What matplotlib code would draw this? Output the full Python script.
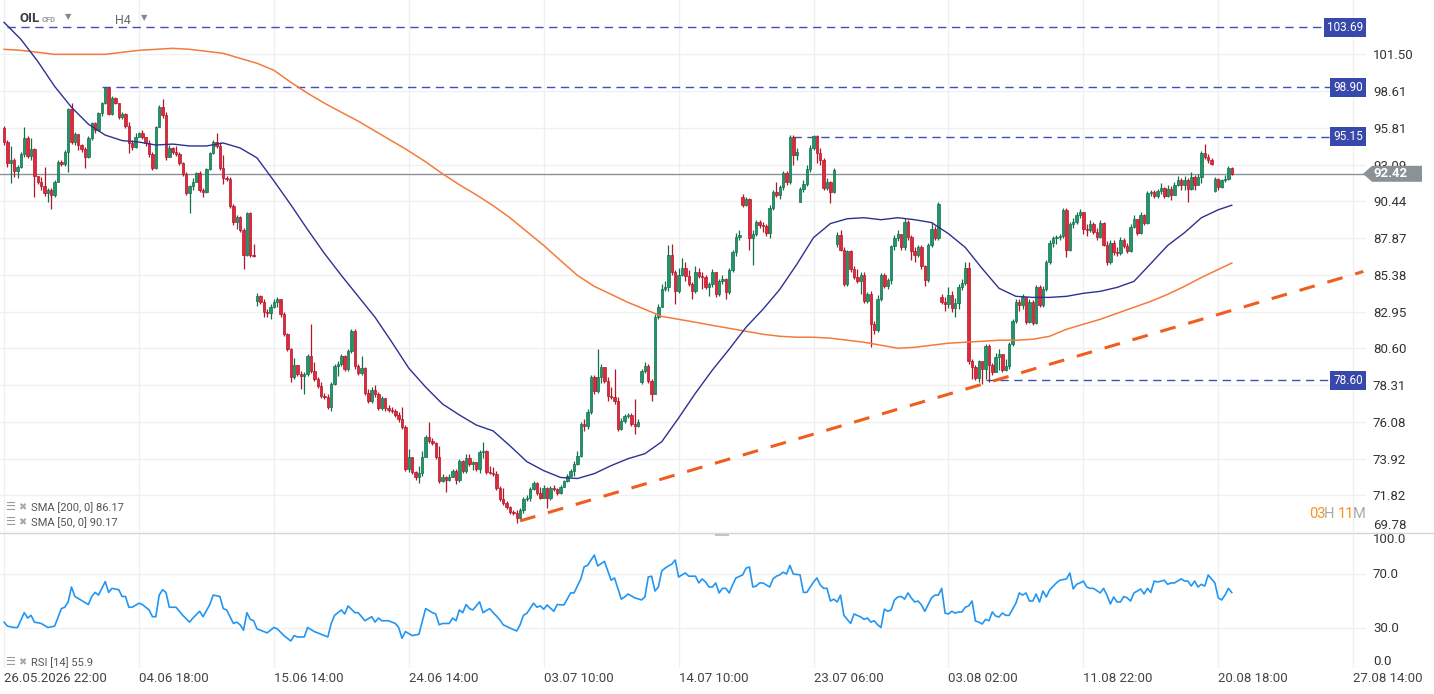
import numpy as np
import matplotlib
matplotlib.use("Agg")
import matplotlib.pyplot as plt
from matplotlib.patches import Polygon
from matplotlib.lines import Line2D
from matplotlib.ticker import NullLocator
from matplotlib.transforms import blended_transform_factory

plt.rcParams['font.family'] = ['Roboto', 'DejaVu Sans']

# ---- OIL CFD, H4 candles ----
first_open = 95.79
closes = [
    94.75, 93.22, 93.43, 92.63, 92.93, 93.87, 95.05, 93.72, 94.23, 92.27,
    91.84, 91.56, 91.05, 91.27, 90.91, 91.84, 93.29, 93.14, 94.01,
    97.22, 94.75, 95.35, 94.53, 94.23, 93.65, 95.05, 96.17, 95.64, 96.92,
    97.68, 98.83, 96.85, 98.06, 97.68, 96.62, 96.85, 95.94, 94.68, 94.38,
    95.12, 95.42, 95.12, 94.68, 93.87, 92.85,
    95.87, 97.37, 96.77,
    93.65, 94.31, 94.01, 93.87, 93.22, 92.42, 91.05, 91.56, 91.84, 92.49,
    91.27, 91.13, 92.78, 93.94, 94.75, 94.46, 92.85, 92.12, 92.05, 90.14,
    89.01, 89.36, 88.46, 86.75, 89.64, 86.75, 86.68,
    83.95, 83.55, 82.90, 82.84, 83.23, 83.55, 83.75, 82.77, 81.49, 80.54,
    78.79, 79.54, 78.98, 78.85, 78.98, 80.10, 79.17, 78.67, 78.24, 77.63,
    77.60, 76.97, 78.36, 79.48, 79.60, 80.10, 79.29, 80.41, 81.68, 79.48,
    79.04, 79.35, 77.81, 77.33, 78.00, 77.75, 76.91, 77.51, 76.91, 76.79,
    76.75, 76.49, 76.25, 75.78, 73.34, 74.03, 73.17, 72.88,
    73.11, 74.03, 75.19, 74.95, 74.84, 74.03, 72.60, 72.88, 72.66, 72.88,
    73.22, 72.66, 73.80, 73.22, 73.97, 73.62, 73.70, 73.34, 74.32, 74.38,
    73.17, 73.11, 73.05, 72.21, 71.59, 71.37, 71.15, 70.88, 70.82, 70.55,
    70.99, 71.59, 71.65, 72.15, 72.49,
    71.93, 71.65, 72.21,
    71.65, 72.21, 72.15, 71.93, 72.27, 72.60, 72.94, 73.22, 73.62, 74.08,
    75.95, 75.83, 76.67, 78.79, 77.94, 78.79, 79.42, 78.55, 77.63, 77.57,
    77.33, 75.66, 76.13, 76.43, 76.49, 75.95,
    75.83, 76.07, 79.17, 79.48, 78.55, 77.75, 82.58, 83.23, 84.41, 84.54,
    86.75, 85.54, 84.28, 85.40, 85.87, 85.27,
    84.74, 84.28, 85.60, 85.27, 85.20, 84.54, 84.74, 85.54, 84.08, 84.94,
    85.07, 84.21, 85.67, 86.89, 87.97, 88.11, 90.21, 90.63, 87.91, 88.18,
    89.01, 88.81, 88.74, 88.25, 89.99,
    91.13, 90.91, 91.48, 92.49, 91.84, 95.15, 93.80, 94.01,
    91.34, 91.70, 92.78, 94.31, 95.20, 93.94, 93.43,
    91.41, 91.84, 91.13, 92.71, 88.11, 87.09, 84.74, 86.96, 85.74, 85.20,
    84.94, 85.40, 83.62, 84.08, 82.13, 81.74, 83.75, 85.34, 84.61, 85.00,
    87.30, 87.91, 88.18, 87.23, 89.01, 87.97, 86.96, 86.75, 87.23, 85.94,
    85.00, 87.37, 88.53, 87.91, 90.28, 83.55, 83.42, 84.01, 83.16,
    83.49, 84.54, 84.81, 85.87, 79.79, 79.42, 78.73, 79.79, 79.29, 80.72,
    79.54, 79.10,
    80.03, 80.22, 79.23, 79.48, 80.85,
    82.32, 83.55, 83.36, 83.88, 82.26,
    83.55, 82.19, 84.54, 83.36, 84.41, 86.27, 87.57, 87.91, 87.97, 88.04,
    89.85, 87.09, 88.88, 89.01, 89.50, 89.71, 88.53, 88.46, 88.88, 88.32,
    87.97, 88.95, 87.43, 86.21, 87.57,
    86.89, 86.82, 87.77, 87.30, 86.96, 88.67,
    89.22, 88.25, 89.50, 88.95, 91.05, 91.13, 90.84, 91.20, 91.41, 90.84,
    91.34, 90.91, 91.63, 91.98, 91.63, 91.98, 91.34, 92.20, 91.63, 92.20,
    93.94, 93.65, 93.43, 93.14, 92.05, 91.48, 91.98, 92.05, 92.85, 92.42,
]
highs = [
    95.94, 94.90, 94.46, 93.58, 93.07, 94.01, 95.87, 95.20, 95.05, 94.31,
    92.27, 92.20, 92.93, 91.41, 91.41, 91.98, 93.43, 93.43, 94.16,
    97.29, 97.68, 95.49, 95.05, 94.60, 94.38, 95.20, 96.24, 96.24, 96.99,
    97.75, 98.90, 98.90, 98.22, 98.14, 97.14, 96.99, 96.92, 96.24, 94.90,
    95.42, 95.49, 95.64, 94.97, 94.90, 94.01,
    95.94, 97.52, 97.98,
    96.99, 94.53, 94.38, 94.46, 94.01, 93.29, 92.56, 91.63, 92.12, 92.56,
    92.63, 91.41, 92.85, 94.01, 94.90, 95.42, 94.75, 93.80, 92.27, 92.20,
    90.28, 89.50, 89.43, 88.60, 89.71, 89.71, 87.50,
    84.15, 84.01, 83.75, 83.10, 83.42, 83.75, 83.88, 83.75, 82.90, 81.55,
    80.60, 79.97, 79.54, 79.17, 79.10, 80.22, 82.13, 79.72, 78.79, 78.48,
    77.81, 77.75, 78.48, 79.60, 79.79, 80.22, 80.16, 80.54, 81.81, 81.81,
    79.60, 80.10, 79.42, 78.06, 78.18, 78.30, 77.87, 77.63, 77.51, 77.09,
    76.97, 76.85, 76.67, 76.97, 75.89, 74.49, 73.97, 73.22,
    73.51, 74.38, 75.30, 76.07, 75.13, 74.90, 74.67, 73.00, 72.94, 73.00,
    73.34, 73.34, 73.91, 73.85, 74.20, 74.20, 73.80, 73.74, 74.43, 74.90,
    74.43, 73.51, 73.45, 73.22, 72.32, 72.21, 71.48, 71.21, 70.99, 70.99,
    71.10, 71.70, 71.82, 72.27, 72.60,
    72.55, 72.27, 72.38,
    72.27, 72.32, 72.38, 72.21, 72.38, 72.71, 73.05, 73.34, 73.80, 74.38,
    76.07, 76.25, 76.85, 78.92, 78.92, 80.54, 79.60, 79.42, 78.79, 78.18,
    79.29, 77.57, 76.31, 76.55, 76.61, 76.61,
    77.45, 76.25, 79.29, 79.72, 79.60, 78.67, 82.77, 83.42, 84.74, 84.94,
    87.43, 87.50, 85.67, 85.87, 86.48, 86.27,
    85.67, 84.87, 86.00, 85.87, 85.60, 85.34, 84.87, 85.74, 85.60, 85.07,
    85.40, 85.14, 85.87, 87.09, 88.25, 88.46, 90.98, 90.77, 90.70, 88.46,
    89.15, 89.15, 89.01, 88.88, 90.21,
    91.27, 91.84, 91.63, 92.63, 92.63, 95.25, 95.25, 94.31,
    91.48, 91.98, 93.07, 94.53, 95.25, 95.25, 94.31,
    93.58, 92.12, 91.91, 92.85, 88.32, 88.46, 87.23, 87.09, 87.09, 86.00,
    85.74, 85.54, 85.60, 84.21, 84.28, 82.32, 84.01, 85.47, 85.47, 85.14,
    87.43, 88.11, 88.46, 88.04, 89.29, 89.15, 88.11, 87.23, 87.43, 87.43,
    86.07, 87.57, 89.01, 88.74, 90.42, 84.08, 83.88, 84.54, 84.28,
    83.82, 84.74, 85.07, 86.21, 86.21, 79.91, 79.54, 79.85, 79.79, 80.85,
    80.85, 79.66,
    80.28, 80.54, 80.22, 79.91, 80.98,
    82.45, 83.75, 83.75, 84.08, 83.88,
    83.75, 83.68, 84.68, 84.68, 84.61, 86.41, 87.77, 88.04, 88.11, 88.18,
    89.99, 89.99, 89.01, 89.29, 89.71, 89.92, 89.71, 88.88, 89.15, 89.01,
    88.60, 89.15, 89.01, 87.64, 87.77,
    87.71, 87.23, 87.97, 87.91, 87.57, 88.88,
    89.50, 89.22, 89.71, 89.57, 91.20, 91.27, 91.27, 91.34, 91.77, 91.48,
    91.63, 91.56, 91.84, 92.27, 92.12, 92.27, 92.12, 92.56, 92.34, 92.42,
    94.09, 94.60, 93.87, 93.58, 92.20, 92.12, 92.05, 92.34, 93.00, 92.93,
]
lows = [
    94.53, 92.93, 91.77, 92.20, 92.12, 92.85, 93.65, 93.58, 93.43, 90.77,
    91.70, 91.27, 90.84, 90.42, 89.92, 90.77, 92.49, 93.00, 93.00,
    92.56, 94.60, 94.53, 94.16, 94.01, 92.85, 93.58, 94.90, 95.42, 95.57,
    96.70, 97.60, 96.77, 96.77, 97.60, 96.47, 96.47, 95.79, 93.94, 94.16,
    94.31, 95.12, 94.97, 94.46, 93.65, 92.71,
    92.78, 95.87, 96.54,
    93.43, 93.94, 93.87, 93.72, 93.07, 92.27, 90.91, 89.64, 91.27, 91.98,
    91.13, 90.77, 91.05, 92.71, 93.87, 94.31, 92.71, 91.70, 91.91, 89.99,
    88.81, 88.53, 88.32, 85.80, 86.68, 86.55, 86.55,
    83.29, 83.42, 82.58, 82.58, 82.45, 83.16, 83.23, 82.58, 81.36, 80.41,
    78.48, 78.67, 78.85, 78.06, 77.75, 78.85, 79.04, 78.55, 78.12, 77.51,
    77.45, 76.85, 76.73, 78.30, 78.85, 79.48, 79.17, 79.17, 80.28, 79.29,
    78.92, 78.92, 77.69, 77.21, 77.21, 77.57, 76.79, 76.79, 76.73, 76.67,
    76.61, 76.37, 76.07, 75.66, 73.22, 73.17, 73.00, 72.71,
    72.49, 72.94, 74.03, 74.84, 74.72, 73.91, 72.49, 72.55, 71.99, 72.60,
    72.88, 72.43, 72.55, 73.11, 73.11, 73.51, 73.28, 73.22, 73.11, 73.97,
    73.05, 73.00, 72.94, 72.10, 71.48, 71.26, 71.04, 70.77, 70.71, 70.28,
    70.50, 70.82, 71.48, 71.48, 72.10,
    71.82, 71.60, 71.65,
    71.10, 71.54, 72.04, 71.82, 71.87, 72.27, 72.55, 72.83, 72.94, 73.57,
    74.03, 75.54, 75.66, 76.55, 77.75, 77.81, 78.42, 78.42, 77.33, 77.45,
    77.15, 75.54, 75.60, 76.01, 76.31, 75.83,
    75.36, 75.78, 78.36, 79.04, 78.42, 77.33, 77.94, 82.45, 83.75, 84.28,
    84.28, 85.40, 83.42, 84.15, 85.27, 84.94,
    84.61, 83.75, 84.15, 85.14, 84.41, 84.41, 83.95, 84.54, 83.88, 83.95,
    84.74, 83.75, 84.08, 85.54, 86.68, 87.77, 90.07, 90.14, 87.09, 86.07,
    88.04, 88.60, 88.32, 88.04, 87.91,
    89.85, 90.77, 90.63, 91.27, 91.63, 91.70, 93.07, 93.43,
    90.42, 91.13, 91.56, 92.56, 94.16, 93.22, 93.07,
    91.27, 91.27, 90.35, 91.05, 87.23, 86.96, 84.61, 84.61, 85.60, 85.07,
    84.81, 84.08, 83.49, 83.49, 80.66, 81.49, 81.62, 83.62, 84.48, 84.41,
    84.74, 87.09, 87.64, 87.09, 87.09, 87.77, 86.41, 86.27, 86.55, 85.80,
    84.61, 84.87, 87.23, 87.77, 87.77, 83.42, 82.97, 83.16, 82.90,
    82.58, 83.10, 84.35, 84.68, 79.60, 78.67, 78.61, 78.48, 78.36, 78.67,
    78.48, 78.92,
    79.10, 79.23, 79.10, 79.17, 79.29,
    80.72, 82.19, 82.97, 83.10, 82.13,
    82.19, 82.06, 82.13, 83.23, 83.23, 84.28, 86.14, 87.23, 87.50, 87.77,
    87.91, 86.61, 86.96, 88.60, 88.88, 89.29, 88.18, 88.04, 88.32, 88.18,
    87.77, 87.91, 87.30, 86.07, 86.14,
    86.75, 86.68, 86.75, 87.16, 86.82, 86.89,
    88.60, 88.11, 88.18, 88.81, 88.88, 90.84, 90.70, 90.70, 90.98, 90.70,
    90.77, 90.56, 90.91, 91.56, 91.27, 91.27, 90.42, 91.27, 91.27, 91.63,
    91.77, 93.50, 93.22, 93.07, 91.13, 91.27, 91.41, 91.84, 91.98, 92.35,
]
# weekend gaps: bar index -> open price
gap_opens = {75: 83.62, 189: 78.48, 219: 90.77, 236: 90.42,
             247: 87.50, 278: 83.88, 359: 91.20}

# moving averages, sampled every 5 bars
sma_bars = list(range(0, 361, 5)) + [364]
sma50 = [104.08, 102.70, 100.94, 98.98, 97.37, 96.09, 95.27, 94.86, 94.75, 94.53,
         94.60, 94.46, 94.46, 94.68, 94.31, 93.58, 91.91, 90.21, 88.46, 86.82,
         85.34, 83.95, 82.58, 80.98, 79.35, 78.18, 77.15, 76.49, 75.89, 75.54,
         74.66, 73.74, 73.22, 72.83, 72.77, 73.05, 73.51, 73.91, 74.20, 74.90,
         76.31, 77.81, 79.23, 80.54, 81.94, 83.10, 84.41, 86.07, 87.91, 88.88,
         89.22, 89.29, 89.15, 89.29, 89.15, 88.95, 88.18, 87.23, 85.80, 84.48,
         83.95, 83.88, 83.88, 83.95, 84.15, 84.28, 84.54, 84.94, 86.14, 87.37,
         88.25, 89.29, 89.85, 90.17]
sma200 = [101.90, 101.82, 101.66, 101.50, 101.50, 101.50, 101.50, 101.66, 101.82, 101.90,
          101.98, 101.90, 101.74, 101.58, 101.18, 100.79, 100.24, 99.30, 98.45, 97.68,
          96.99, 96.32, 95.57, 94.83, 94.09, 93.29, 92.42, 91.63, 90.91, 90.14,
          89.29, 88.32, 87.37, 86.34, 85.34, 84.61, 84.08, 83.55, 83.10, 82.64,
          82.45, 82.26, 82.06, 81.87, 81.68, 81.49, 81.36, 81.30, 81.30, 81.24,
          81.11, 80.98, 80.79, 80.60, 80.66, 80.79, 80.92, 80.98, 81.04, 81.11,
          81.11, 81.17, 81.36, 81.81, 82.13, 82.45, 82.84, 83.23, 83.62, 84.08,
          84.61, 85.20, 85.74, 86.17]

# RSI [14]
rsi_bars = [
    0, 1, 3, 4, 6, 7, 8, 9, 11, 13, 15, 17, 18, 19, 20,
    21, 23, 25, 26, 27, 28, 29, 30, 31, 32, 34, 35, 36, 37, 38,
    40, 41, 43, 44, 45, 46, 47, 48, 49, 51, 53, 55, 56, 58, 59,
    61, 62, 64, 65, 66, 68, 69, 70, 71, 72, 73, 74, 75, 77, 78,
    80, 81, 83, 85, 86, 87, 89, 90, 92, 94, 96, 97, 98, 100, 101,
    102, 104, 105, 107, 109, 110, 111, 112, 114, 116, 117, 118, 119, 121, 123,
    125, 127, 128, 129, 130, 132, 133, 134, 135, 136, 137, 138, 139, 141, 142,
    144, 145,
    146, 147, 148, 150, 152, 153, 154, 155, 157, 158, 159, 160, 161, 163, 164,
    166, 168, 169, 171, 172, 173, 175, 176, 178, 180, 181, 183, 184, 185, 187,
    189, 190, 191, 192, 193, 194, 195, 196, 197, 198, 199, 200, 201, 202, 203,
    205, 206, 207, 208, 209, 210, 211, 212, 213, 214, 215, 216, 217, 219, 220,
    221, 222, 223, 224, 225, 227, 228, 229, 230, 231, 232, 233, 234, 236, 237,
    238, 240, 241, 242, 243, 244, 245, 246, 247, 248, 249, 251, 252, 254, 255,
    256, 257, 258, 259, 260, 261, 262, 263, 264, 265, 266, 267, 268, 269, 270,
    271, 272, 273, 275, 276, 277, 278, 279, 280, 281, 282, 283, 284, 285, 286,
    287, 288, 289, 290, 291, 292, 293, 294, 295, 296, 297, 298, 300, 301, 302,
    303, 304, 305, 306, 307, 308, 309, 310, 312, 313, 315, 316, 317, 318, 319,
    320, 321, 322, 323, 325, 326, 327, 328, 329, 330, 331, 332, 333, 334, 335,
    336, 337, 338, 339, 340, 341, 342, 344, 345, 346, 347, 349, 350, 351, 352,
    353, 354, 355, 356, 357, 358, 359, 360, 361, 362, 363, 364,
]
rsi_vals = [
    34, 31, 30, 30, 41, 37, 39, 34, 33, 30, 31, 44, 45, 49, 60,
    53, 50, 47, 53, 56, 54, 59, 64, 56, 59, 58, 53, 53, 45, 45,
    48, 47, 43, 38, 38, 54, 58, 56, 45, 45, 39, 34, 37, 42, 38,
    47, 54, 53, 44, 43, 33, 34, 32, 28, 41, 36, 35, 29, 27, 26,
    30, 29, 24, 20, 24, 23, 23, 30, 27, 25, 23, 33, 39, 43, 40,
    46, 41, 41, 35, 38, 34, 37, 35, 35, 33, 30, 22, 27, 24, 25,
    44, 41, 40, 32, 33, 33, 37, 35, 43, 41, 47, 44, 43, 49, 41,
    44, 41,
    38.5, 35.6, 32, 29.6, 27.4, 32, 39, 40.5, 48, 45, 46, 43.5, 46.7, 42, 47,
    46.7, 55.6, 55.6, 66, 75, 76, 83.7, 75.6, 79, 65, 66.7, 51, 52.6, 54.8, 52,
    50.4, 52.6, 67.4, 68, 57, 60, 71.9, 74, 75.6, 77, 80, 67.4, 69, 70.4, 68,
    68, 63, 66, 63.7, 60, 60, 63, 55.6, 59, 59, 55.6, 61.5, 66.7, 69, 74,
    74.8, 60, 60.7, 63, 63, 60, 66, 68, 69, 71, 69.6, 76, 69.6, 69, 56,
    56, 63.7, 66.7, 61.5, 59, 59, 49.6, 51, 48.9, 54, 39, 33, 40, 37.8, 36,
    37, 34, 35, 32, 30, 43.6, 42, 43, 50.4, 52.6, 53, 51, 55.6, 51.9, 48.9,
    49.6, 46.7, 42, 52, 54, 54, 59, 40.7, 40, 42, 40.7, 41.5, 41.5, 45, 46,
    49.6, 34.8, 34, 32.6, 36, 35, 41.5, 38.5, 37.8, 40.7, 39, 39, 48, 55.6, 54,
    55.6, 49.6, 49.6, 54.8, 48.9, 57, 52.6, 57.8, 63, 65, 66, 70.4, 58.5, 62, 63,
    64.4, 60, 59, 59, 55.6, 59, 54, 47.4, 52.6, 48.9, 48.9, 53, 51.9, 49.6, 55.6,
    57, 58.5, 54.8, 59, 56, 64.4, 63.7, 65, 62, 63, 63, 66, 64.4, 64.4, 60.7,
    64.4, 60, 62, 60.7, 68.9, 66, 63, 51.9, 50.4, 54, 59, 55.9,
]

price_ticks = [69.78, 71.82, 73.92, 76.08, 78.31, 80.60, 82.95, 85.38,
               87.87, 90.44, 93.09, 95.81, 98.61, 101.50]
rsi_ticks = [0, 30, 70, 100]
date_ticks = list(range(0, 401, 40))
date_labels = ['26.05.2026 22:00', '04.06 18:00', '15.06 14:00', '24.06 14:00',
               '03.07 10:00', '14.07 10:00', '23.07 06:00', '03.08 02:00',
               '11.08 22:00', '20.08 18:00', '27.08 14:00']

levels = [103.69, 98.90, 95.15, 78.60]
level_start = [1, 29, 234, 291]
last_price = 92.42
trend_bars = [153, 403]
trend_prices = [70.39, 85.60]

# ---- figure ----
W, H = 1434, 694
fig = plt.figure(figsize=(W / 100, H / 100), dpi=100)
fig.patch.set_facecolor('white')


def fx(px):
    return px / W


def fy(py):
    return 1 - py / H


ax = fig.add_axes([0, fy(532), fx(1366), 532 / H])
ax2 = fig.add_axes([0, fy(668), fx(1366), 135 / H])
xmin, xmax = -1.2, 403.8

n = len(closes)
xs = np.arange(n)
c = np.array(closes)
o = np.array([first_open] + closes[:-1])
for i, v in gap_opens.items():
    o[i] = v
hi = np.maximum(np.array(highs), np.maximum(o, c))
lo = np.minimum(np.array(lows), np.minimum(o, c))
up = c >= o

green, green_dk = '#22966a', '#127049'
red, red_dk = '#e4283a', '#b0172a'

ax.set_yscale('log')
ax.vlines(xs[up], lo[up], hi[up], color=green_dk, lw=0.9, zorder=3)
ax.vlines(xs[~up], lo[~up], hi[~up], color=red_dk, lw=0.9, zorder=3)
ax.bar(xs[up], (c - o)[up], bottom=o[up], width=0.72, color=green,
       edgecolor=green_dk, lw=0.5, zorder=4)
ax.bar(xs[~up], (c - o)[~up], bottom=o[~up], width=0.72, color=red,
       edgecolor=red_dk, lw=0.5, zorder=4)

ax.plot(sma_bars, sma200, color='#f47b3c', lw=1.1, zorder=5)
ax.plot(sma_bars, sma50, color='#2d3190', lw=1.0, zorder=5)

ax.axhline(last_price, color='#8a9298', lw=1, zorder=2)
for lv, st in zip(levels, level_start):
    ax.plot([st, xmax], [lv, lv], color='#3f51b5', lw=1, dashes=(6, 4), zorder=2)

ax.plot(trend_bars, trend_prices, color='#ef5d1f', lw=2.2, dashes=(5.2, 4.3),
        zorder=6, solid_capstyle='butt', dash_capstyle='butt')

ax.set_xlim(xmin, xmax)
ax.set_ylim(69.78, 105.92)
ax.yaxis.set_minor_locator(NullLocator())
ax.set_yticks(price_ticks)
ax.set_yticklabels([f'{p:.2f}' for p in price_ticks])
ax.yaxis.tick_right()
ax.tick_params(axis='y', length=0, pad=5, labelsize=9.5, labelcolor='#333333')
ax.set_xticks(date_ticks)
ax.tick_params(axis='x', length=0, labelbottom=False)
ax.grid(True, color='#f0f0f0', lw=1, zorder=0)
ax.set_axisbelow(True)
for s in ax.spines.values():
    s.set_visible(False)
ax.get_yticklabels()[0].set_va('bottom')

bt = blended_transform_factory(ax.transAxes, ax.transData)
for lv in levels:
    ax.text(1 - 3 / 1366, lv, f'{lv:.2f}', transform=bt, ha='right', va='center',
            fontsize=8.5, color='white', zorder=8, clip_on=False,
            bbox=dict(boxstyle='square,pad=0.25', fc='#3949ab', ec='none'))

# RSI panel
ax2.plot(rsi_bars, rsi_vals, color='#2196f3', lw=1.2)
ax2.set_xlim(xmin, xmax)
ax2.set_ylim(0, 100)
ax2.set_yticks(rsi_ticks)
ax2.set_yticklabels([f'{v:.1f}' for v in rsi_ticks])
ax2.yaxis.tick_right()
ax2.tick_params(axis='y', length=0, pad=5, labelsize=9.5, labelcolor='#333333')
ax2.set_xticks(date_ticks)
ax2.set_xticklabels(date_labels, ha='left')
ax2.tick_params(axis='x', length=0, pad=3, labelsize=9.5, labelcolor='#444444')
ax2.grid(True, color='#f0f0f0', lw=1)
for s in ax2.spines.values():
    s.set_visible(False)
ylabs = ax2.get_yticklabels()
ylabs[0].set_va('bottom')
ylabs[-1].set_va('top')

# separator between panels
fig.add_artist(Line2D([0, 1], [fy(533), fy(533)], transform=fig.transFigure,
                      color='#d6d6d6', lw=1))
fig.add_artist(Line2D([fx(716), fx(728)], [fy(534.5), fy(534.5)],
                      transform=fig.transFigure, color='#c4c4c4', lw=1.5))

# current price tag
yd = ax.transData.transform((0, last_price))[1]
yp = H - yd
tag = Polygon([(fx(1363), fy(yp)), (fx(1372), fy(yp - 8)), (fx(1422), fy(yp - 8)),
               (fx(1422), fy(yp + 8)), (fx(1372), fy(yp + 8))], closed=True,
              transform=fig.transFigure, fc='#8a9298', ec='none', zorder=10)
fig.add_artist(tag)
fig.text(fx(1374), fy(yp), f'{last_price:.2f}', color='white', fontsize=9.5,
         weight='bold', va='center', zorder=11)

# header
fig.text(fx(20), fy(18), 'OIL', fontsize=9.5, weight='bold', color='#3c3c3c', va='center')
fig.text(fx(42), fy(19), 'CFD', fontsize=5.5, weight='bold', color='#999999', va='center')
fig.text(fx(65), fy(17), '▼', fontsize=6, color='#888888', va='center')
fig.text(fx(115), fy(20), 'H4', fontsize=9, color='#666666', va='center')
fig.text(fx(141), fy(18), '▼', fontsize=6, color='#888888', va='center')

# indicator legends
legend_rows = [(507, 'SMA [200, 0] 86.17'), (522, 'SMA [50, 0] 90.17'), (662, 'RSI [14] 55.9')]
for yy, label in legend_rows:
    fig.text(fx(5), fy(yy), '☰', fontsize=8, color='#9a9a9a', va='center')
    fig.text(fx(18), fy(yy), '✖', fontsize=7, color='#a8a8a8', va='center')
    fig.text(fx(31), fy(yy + 1), label, fontsize=8, color='#555555', va='center')

# candle countdown
for xx, part, col in [(1309, '03', '#f7931e'), (1324, 'H', '#aaaaaa'),
                      (1338, '11', '#f7931e'), (1353, 'M', '#aaaaaa')]:
    fig.text(fx(xx), fy(514), part, fontsize=10.5, color=col, va='center')

fig.savefig('out.png', dpi=100, facecolor='white')
